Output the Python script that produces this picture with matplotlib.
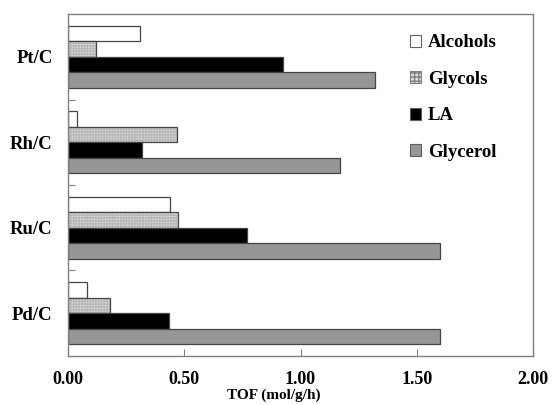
import matplotlib.pyplot as plt
from matplotlib.patches import Patch
import numpy as np

plt.rcParams['font.family'] = ['Liberation Serif', 'DejaVu Serif']
plt.rcParams['font.weight'] = 'bold'
plt.rcParams['axes.labelweight'] = 'bold'

catalysts = ["Pt/C", "Rh/C", "Ru/C", "Pd/C"]
series = ["Alcohols", "Glycols", "LA", "Glycerol"]
alcohols = [0.31, 0.04, 0.44, 0.08]
glycols = [0.12, 0.47, 0.475, 0.18]
la = [0.925, 0.32, 0.77, 0.435]
glycerol = [1.32, 1.17, 1.60, 1.60]

values = [alcohols, glycols, la, glycerol]
fills = ["white", "#e2e2e2", "black", "#969696"]
edge = "#454545"

fig = plt.figure(figsize=(5.52, 4.05), dpi=100)
ax = fig.add_axes([0.1232, 0.121, 0.8424, 0.8444])

centers = np.arange(len(catalysts)) + 0.5
h = 0.1825
for k, vals in enumerate(values):
    y = centers + (k - 1.5) * h
    if series[k] == "Glycols":
        # fine checkered fill drawn underneath the outline
        ax.barh(y, vals, height=h, color=fills[k], edgecolor="#b8b8b8",
                hatch="++++++", linewidth=0)
        ax.barh(y, vals, height=h, fill=False, edgecolor=edge, linewidth=0.9)
    else:
        ax.barh(y, vals, height=h, color=fills[k], edgecolor=edge, linewidth=0.9)

ax.set_xlim(0, 2.0)
ax.set_ylim(4, 0)
ax.set_xticks([0, 0.5, 1.0, 1.5, 2.0])
ax.set_xticklabels(["0.00", "0.50", "1.00", "1.50", "2.00"], fontsize=13, fontweight="bold")
ax.set_yticks([1, 2, 3])
ax.set_yticklabels([])
ax.set_yticks(centers, minor=True)
ax.set_yticklabels(catalysts, minor=True, fontsize=13.5, fontweight="bold")
ax.tick_params(axis="y", which="minor", length=0, pad=11)
ax.tick_params(axis="y", which="major", direction="in", length=5, color="#808080")
ax.tick_params(axis="x", direction="in", length=5, color="#808080", pad=10.5)
ax.set_xlabel("TOF (mol/g/h)", fontsize=11, fontweight="bold")
ax.xaxis.label.set_verticalalignment("baseline")
ax.xaxis.set_label_coords(0.443, -0.1245)
for s in ax.spines.values():
    s.set_color("#808080")
    s.set_linewidth(1.0)

handles = []
for k in range(len(series)):
    if series[k] == "Glycols":
        handles.append(Patch(facecolor=fills[k], edgecolor="#808080", hatch="++++", linewidth=0.8))
    else:
        handles.append(Patch(facecolor=fills[k], edgecolor="#606060", linewidth=0.8))
ax.legend(handles, series, loc="upper left", bbox_to_anchor=(0.699, 0.99),
          frameon=False, prop={"size": 13.5, "weight": "bold"},
          handlelength=0.6, handleheight=0.6,
          handletextpad=0.35, labelspacing=1.04)

fig.savefig("out.png", dpi=100)
